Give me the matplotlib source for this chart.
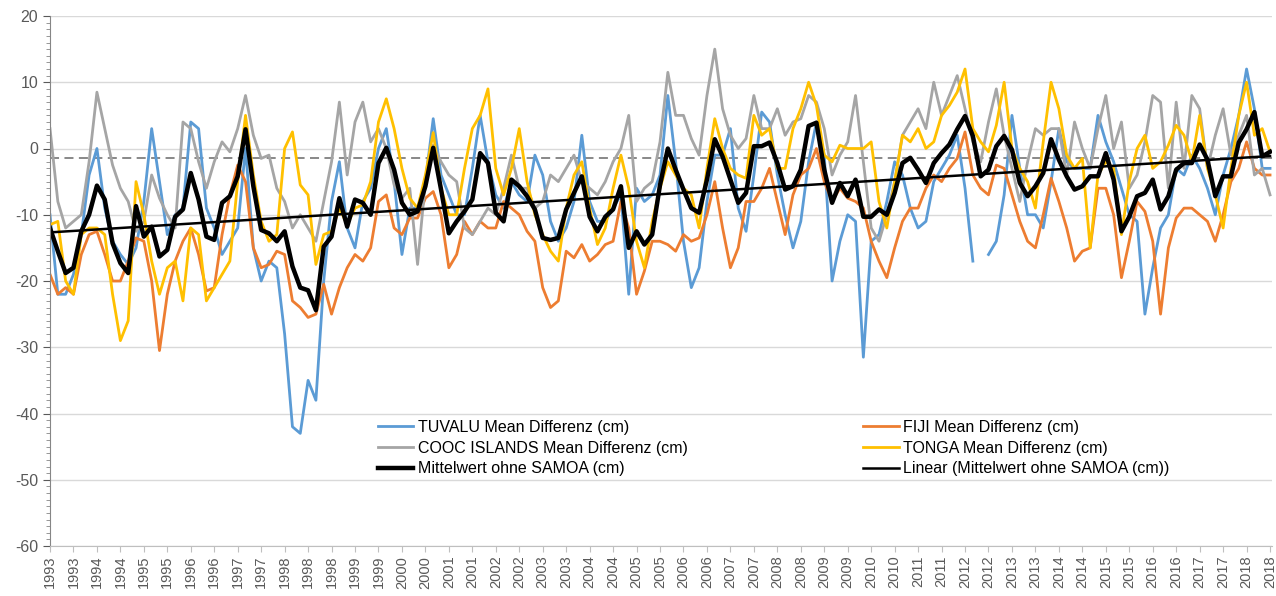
import matplotlib.pyplot as plt
import numpy as np

# monthly sea level differences, read every 2nd month (Jan 1993 .. early 2019)
tuvalu = [
    -10, -22, -22, -19, -13, -4, 0, -9, -14, -16,
    -17.5, -15, -8, 3, -5, -13, -10, -9, 4, 3,
    -9, -12, -16, -14, -12, 0, -15, -20, -17, -18,
    -28, -42, -43, -35, -38, -20, -8, -2, -12, -15,
    -8, -6, 0, 3, -5, -16, -9, -9, -5, 4.5,
    -4, -7, -10, -10, -3, 5, -2, -7, -9, -5,
    -7, -8, -1, -4, -11, -14, -12, -8, 2, -8,
    -11, -11, -9, -7, -22, -6, -8, -7, -4, 8,
    -2, -14, -21, -18, -8, -1, -1, 3, -9, -12.5,
    -4, 5.5, 4, -4, -10, -15, -11, -2, 4, -1,
    -20, -14, -10, -11, -31.5, -14, -13, -8, -2, -4,
    -9, -12, -11, -5, -3, -1, 2, -6, -17, np.nan,
    -16, -14, -7, 5, -3, -10, -10, -12, -5, 3,
    -2, -3, -3, -3, 5, 1, -2, -6, -10, -11,
    -25, -18, -12, -10, -3, -4, -1, -3, -6, -10,
    -4, 0, 5, 12, 6, -3, -3,
]
fiji = [
    -19, -22, -21, -22, -16, -13, -12.5, -16, -20, -20,
    -17, -13.5, -14, -20, -30.5, -22, -17, -14, -12, -16,
    -21.5, -21, -13, -7, -2.5, -5, -15, -18, -17.5, -15.5,
    -16, -23, -24, -25.5, -25, -20.5, -25, -21, -18, -16,
    -17, -15, -8, -7, -12, -13, -10.5, -10.5, -7.5, -6.5,
    -10, -18, -16, -11, -13, -11, -12, -12, -8, -9,
    -10, -12.5, -14, -21, -24, -23, -15.5, -16.5, -14.5, -17,
    -16, -14.5, -14, -8, -12, -22, -18.5, -14, -14, -14.5,
    -15.5, -13, -14, -13.5, -10, -5, -12, -18, -15, -8,
    -8, -6, -3, -8, -13, -7, -4, -3, 0, -5,
    -8, -6, -7.5, -8, -9, -14, -17, -19.5, -15, -11,
    -9, -9, -6, -4, -5, -3, -1.5, 2.5, -4, -6,
    -7, -2.5, -3, -7, -11, -14, -15, -10, -4.5, -8,
    -12, -17, -15.5, -15, -6, -6, -10, -19.5, -14, -8,
    -9.5, -14, -25, -15, -10.5, -9, -9, -10, -11, -14,
    -10, -5, -3, 1, -3, -4, -4,
]
cook = [
    3, -8, -12, -11, -10, -2, 8.5, 3, -2.5, -6,
    -8, -12.5, -11, -4, -7.5, -10, -12, 4, 3, -2,
    -6, -2, 1, -0.5, 3, 8, 2, -1.5, -1, -6,
    -8, -12, -10, -12, -14, -8, -2, 7, -4, 4,
    7, 1, 3, 0, -5.5, -7.5, -6, -17.5, -5, 0.5,
    -2, -4, -5, -12, -13, -11, -9, -10, -6, -1,
    -6, -6, -9, -8, -4, -5, -3, -1, -5, -6,
    -7, -5, -2, 0, 5, -8, -6, -5, 1, 11.5,
    5, 5, 1.5, -1, 8, 15, 6, 2, 0, 1.5,
    8, 3, 3, 6, 2, 4, 4.5, 8, 7, 3,
    -4, -1, 1, 8, -2, -12, -14, -10, -5, 2,
    4, 6, 3, 10, 5, 8, 11, 6, 1, -2,
    4, 9, 2, -3, -8, -2, 3, 2, 3, 3,
    -4, 4, 0, -3, 3, 8, 0, 4, -6, -4,
    1, 8, 7, -6, 7, -3, 8, 6, -3, 2,
    6, -1, 2, 5, -4, -3, -7,
]
tonga = [
    -11.5, -11, -20, -22, -13, -12, -12, -13, -22, -29,
    -26, -5, -10, -17, -22, -18, -17, -23, -12, -13,
    -23, -21, -19, -17, -5, 5, -4, -11, -14, -13,
    0, 2.5, -5.5, -7, -17.5, -13, -12.5, -9, -11.5, -9,
    -8.5, -5, 4, 7.5, 3, -3, -7.5, -9, -4, 2.4,
    -6, -10, -10, -3, 3, 5, 9, -3, -7, -3,
    3, -5, -10, -13, -15.5, -17, -9, -4, -2, -9,
    -14.5, -12, -6, -1, -6, -14, -18, -11, -6, -2,
    -4, -6, -7, -12, -3, 4.5, 0, -3, -4, -4.5,
    5, 2, 3, -3, -3, 3, 6, 10, 6.5, -1,
    -2, 0.5, 0, 0, 0, 1, -8, -12, -5, 2,
    1, 3, 0, 1, 5, 6.5, 8.5, 12, 3, 1,
    -0.5, 3.5, 10, 0, -3, -5, -9, 1, 10, 6,
    -1, -3, -1.5, -15, -4, -2, -3, -13, -5, 0,
    2, -3, -2, 0.5, 3.5, 2, -2, 5, -3, -7,
    -12, -3, 5, 10, 2, 3, -0.5,
]
mean_no_samoa = [
    -12, -15.5, -18.8, -18, -12.5, -10, -5.6, -7.7, -14.3, -17.3,
    -18.8, -8.7, -13.3, -11.8, -16.3, -15.3, -10.3, -9.2, -3.7, -7.7,
    -13.3, -13.8, -8.2, -7.2, -4.2, 2.9, -5.7, -12.3, -12.8, -14,
    -12.5, -17.8, -21, -21.4, -24.4, -14.8, -13.3, -7.5, -11.8, -7.7,
    -8.2, -10, -2.2, 0.1, -3.2, -8.2, -10, -9.5, -5.7, 0.1,
    -6.2, -12.8, -11, -9.5, -7.7, -0.7, -2.2, -9.7, -11, -4.7,
    -5.7, -7.2, -9.2, -13.5, -13.8, -13.5, -9.2, -6.7, -4.2, -10.3,
    -12.5, -10.3, -9.2, -5.7, -15, -12.5, -14.5, -13, -5.5, 0,
    -3.2, -6.2, -9, -9.7, -4.7, 1.4, -1.2, -4.7, -8.2, -6.7,
    0.35, 0.35, 0.9, -2.2, -6.2, -5.7, -3.2, 3.4, 3.9, -3.2,
    -8.2, -5.2, -7.2, -4.7, -10.3, -10.3, -9.2, -10, -6.7, -2.2,
    -1.4, -3.2, -5.2, -2.2, -0.7, 0.6, 2.9, 4.9, 1.9, -4.2,
    -3.2, 0.35, 1.9, -0.2, -5.2, -7.2, -5.7, -3.7, 1.4, -1.7,
    -4.2, -6.2, -5.7, -4.2, -4.2, -0.7, -4.7, -12.5, -10.3, -7.2,
    -6.7, -4.7, -9.2, -7.2, -3.2, -2.2, -2.2, 0.6, -1.7, -7.2,
    -4.2, -4.2, 0.9, 2.9, 5.5, -1.2, -0.5,
]
ref_level = -1.5

# category labels, one every 6 months
tick_labels = (
    ["1993", "1993", "1994", "1994", "1995", "1995", "1996", "1996",
     "1997", "1997", "1998", "1998", "1998"]
    + [str(y) for y in range(1999, 2018) for _ in (0, 1)]
    + ["2018", "2018"]
)

months = np.arange(0, 2 * len(mean_no_samoa), 2)

plt.rcParams["font.family"] = ["Liberation Sans", "DejaVu Sans"]
plt.rcParams["axes.unicode_minus"] = False

fig = plt.figure(figsize=(12.76, 5.96), dpi=100)
ax = fig.add_axes([50 / 1276, 50 / 596, 1222 / 1276, 530 / 596])

ax.axhline(ref_level, color="#7F7F7F", lw=1.3, ls=(0, (5, 3)), zorder=1)

l_tuv, = ax.plot(months, tuvalu, color="#5B9BD5", lw=2, label="TUVALU Mean Differenz (cm)")
l_fij, = ax.plot(months, fiji, color="#ED7D31", lw=2, label="FIJI Mean Differenz (cm)")
l_coo, = ax.plot(months, cook, color="#A5A5A5", lw=2, label="COOC ISLANDS Mean Differenz (cm)")
l_ton, = ax.plot(months, tonga, color="#FFC000", lw=2, label="TONGA Mean Differenz (cm)")
l_mean, = ax.plot(months, mean_no_samoa, color="black", lw=3.2, label="Mittelwert ohne SAMOA (cm)")

# linear trendline of the mean
coef = np.polyfit(months, mean_no_samoa, 1)
xfit = np.array([months[0], months[-1]])
l_lin, = ax.plot(xfit, np.polyval(coef, xfit), color="black", lw=1.8,
                 label="Linear (Mittelwert ohne SAMOA (cm))")

ax.set_ylim(-60, 20)
ax.set_xlim(0, months[-1] + 0.5)
ax.set_yticks(np.arange(-60, 21, 10))
ax.set_yticks(np.arange(-60, 21, 1), minor=True)
ax.set_xticks(np.arange(len(tick_labels)) * 6)
ax.set_xticklabels(tick_labels, rotation=90)
ax.yaxis.grid(True, color="#D9D9D9", lw=1)
ax.set_axisbelow(True)

for s in ["top", "right"]:
    ax.spines[s].set_visible(False)
ax.spines["left"].set_color("#868686")
ax.spines["bottom"].set_color("#BFBFBF")
ax.tick_params(axis="y", which="major", labelsize=11.5, colors="#595959", length=5)
ax.tick_params(axis="y", which="minor", length=3, color="#868686")
ax.tick_params(axis="x", labelsize=10.5, colors="#BFBFBF", labelcolor="#595959", length=4, pad=3)

fig.legend(
    handles=[l_tuv, l_coo, l_mean, l_fij, l_ton, l_lin],
    ncol=2, frameon=False, fontsize=11.5,
    loc="upper left", bbox_to_anchor=(370 / 1276, 1 - 412 / 596),
    borderpad=0, handlelength=2.2, handletextpad=0.3,
    columnspacing=11.0, labelspacing=0.35,
)

fig.savefig("out.png", dpi=100)
